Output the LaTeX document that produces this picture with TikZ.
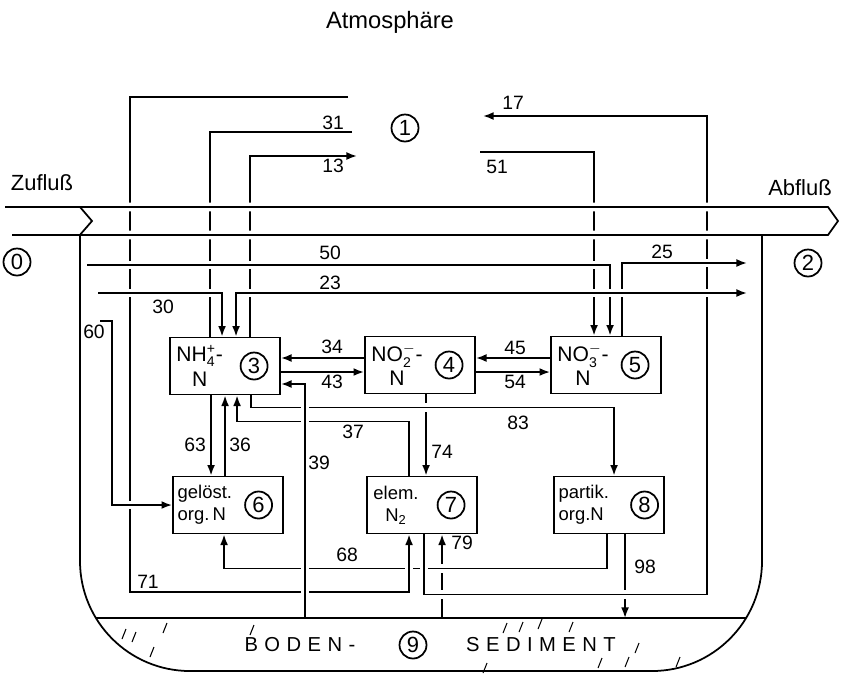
\documentclass[tikz,border=0pt]{standalone}
\usepackage{fontspec,amsmath}
\setmainfont{Liberation Sans}
\usetikzlibrary{arrows.meta,positioning,calc}
\tikzset{
  box/.style={draw,line width=1.1pt,minimum width=2.2cm,minimum height=1.14cm},
  boxtxt/.style={font=\fontsize{12}{14}\selectfont,align=center,inner sep=0pt},
  smtxt/.style={font=\fontsize{10.5}{12.5}\selectfont,align=left,inner sep=0pt},
  cnum/.style={circle,draw,line width=1pt,minimum size=0.54cm,inner sep=0pt,font=\fontsize{12.5}{12.5}\selectfont},
  ln/.style={line width=1pt},
  arr/.style={ln,-{Latex[length=6pt,width=4.5pt]}},
  rarr/.style={ln,{Latex[length=6pt,width=4.5pt]}-},
  dbl/.style={ln,{Latex[length=6pt,width=4.5pt]}-{Latex[length=6pt,width=4.5pt]}},
  over/.style={preaction={draw=white,line width=5pt,-,shorten <=2pt,shorten >=2pt}},
  lbl/.style={font=\fontsize{11}{11}\selectfont,inner sep=0pt},
  big/.style={font=\fontsize{13.5}{14}\selectfont,inner sep=0pt},
  sedtxt/.style={font=\fontsize{11.5}{12}\selectfont\addfontfeature{LetterSpace=32},inner sep=0pt},
  hatch/.style={line width=0.6pt}
}

\begin{document}
\begin{tikzpicture}[x=0.02cm,y=-0.02cm]
  \useasboundingbox (0,0) rectangle (847,674);

  % compartments
  \node[box] (b3) at (225,366) {};
  \node[box] (b4) at (420,365) {};
  \node[box] (b5) at (606,365) {};
  \node[box] (b6) at (228,505) {};
  \node[box] (b7) at (422,505) {};
  \node[box] (b8) at (609,505) {};
  \node[boxtxt,right=4pt of b3.west] (t3) {NH$_{\text{4}}^{\text{+}}$-\\N};
  \node[boxtxt,right=4pt of b4.west] (t4) {NO$_{\text{2}}^{-}$-\\N};
  \node[boxtxt,right=4pt of b5.west] (t5) {NO$_{\text{3}}^{-}$-\\N};
  \node[smtxt,right=3pt of b6.west] (t6) {gel\"ost.\\org.\,N};
  \node[smtxt,align=center,right=4pt of b7.west] (t7) {elem.\\N$_{\text{2}}$};
  \node[smtxt,right=3pt of b8.west] (t8) {partik.\\org.N};
  \node[cnum,left=2.5mm of b3.east] (n3) {3};
  \node[cnum,left=2.5mm of b4.east] (n4) {4};
  \node[cnum,left=2.5mm of b5.east] (n5) {5};
  \node[cnum,left=2.2mm of b6.east] (n6) {6};
  \node[cnum,left=2.5mm of b7.east] (n7) {7};
  \node[cnum,left=1.2mm of b8.east] (n8) {8};

  % outer compartments and texts
  \node[big] (atm) at (390,22) {Atmosph\"are};
  \node[cnum] (n1) at (405,128) {1};
  \node[cnum] (n0) at (17,262) {0};
  \node[cnum] (n2) at (808,263) {2};
  \node[cnum] (n9) at (413,645) {9};
  \node[big,font=\fontsize{12.5}{13}\selectfont] (zu) at (42,183) {Zufluß};
  \node[big,font=\fontsize{12.5}{13}\selectfont] (ab) at (800,188) {Abfluß};
  \node[sedtxt] (bod) at (300,645) {BODEN-};
  \node[sedtxt] (sedt) at (541,645) {SEDIMENT};

  % free ends
  \coordinate (a71) at (348,97);
  \coordinate (a31) at (352,132);
  \coordinate (a13) at (357,156);
  \coordinate (a17) at (483,116);
  \coordinate (a51) at (480,152);
  \coordinate (z50) at (87,265);
  \coordinate (z30) at (98,293);
  \coordinate (z60) at (100,321);
  \coordinate (o25) at (747,263);
  \coordinate (o23) at (747,293);
  \coordinate (sed) at (0,618);
  \coordinate (s39) at (305,618);

  % plain flows
  \draw[ln] (a31) -| ($(b3.north west)+(41,0)$);
  \draw[arr] ($(b3.north west)+(81,0)$) |- (a13);
  \draw[arr] (a51) -| ($(b5.north west)+(44,0)$);
  \draw[rarr] ($(b7.south west)+(76,0)$) coordinate (p79) -- (p79 |- sed);
  \draw[arr] ($(b3.south west)+(42,0)$) coordinate (p63) -- (p63 |- b6.north);
  \draw[arr] ($(b6.north west)+(53,0)$) coordinate (p36) -- (p36 |- b3.south);
  \draw[arr] ($(b4.south west)+(62,0)$) coordinate (p74) -- (p74 |- b7.north);
  \draw[arr] ([yshift=1.4mm]b4.west) -- ([yshift=1.4mm]b4.west -| b3.east);
  \draw[arr] ([yshift=-1.4mm]b4.west -| b3.east) -- ([yshift=-1.4mm]b4.west);
  \draw[arr] ([yshift=1.4mm]b5.west) -- ([yshift=1.4mm]b5.west -| b4.east);
  \draw[arr] ([yshift=-1.4mm]b5.west -| b4.east) -- ([yshift=-1.4mm]b5.west);
  \draw[arr] ($(b8.south west)+(72,0)$) coordinate (p98) -- (p98 |- sed);

  % flows that cross others
  \draw[arr,over] ($(b8.south west)+(54,0)$) -- ++(0,34) -| ($(b6.south west)+(52,0)$);
  \draw[arr,over] ($(b7.south west)+(58,0)$) -- ++(0,60) -- ++(283,0) |- (a17);
  \draw[arr,over] (a71) -| (130,592) -| ($(b7.south west)+(43,0)$);
  \draw[arr,over] (z60) -- ++(12,0) |- (b6.west);
  \draw[arr,over] (z30) -| ($(b3.north west)+(53,0)$);
  \draw[arr,over] ($(b5.north west)+(72,0)$) |- (o25);
  \draw[arr,over] (z50) -| ($(b5.north west)+(60,0)$);
  \draw[dbl,over] (o23) -| ($(b3.north west)+(67,0)$);
  \draw[arr,over] ($(b3.south west)+(82,0)$) -- ++(0,12) -| ($(b8.north west)+(61,0)$);
  \draw[arr,over] ($(b7.north west)+(43,0)$) |- ($(b3.south west)+(68,26)$) -- ($(b3.south west)+(68,0)$);
  \draw[arr,over] (s39) |- ([yshift=-3.6mm]b3.east);

  % river, basin and sediment
  \draw[ln,over] (5,207) -- (828,207) -- (838,221) -- (828,235) -- (12,235);
  \draw[ln] (80,207) -- (92,221) -- (79,236);
  \draw[ln,rounded corners=2.2cm] (80,236) -- (80,671) -- (762,671) -- (762,236);
  \draw[ln] (96,618) -- (746,618);
  \foreach \x/\y in {124/634,134/637,165/628,152/652,252/630,505/628,521/627,540/624,571/627,485/668,600/663,627/662,637/648,678/662}
    \draw[hatch] (\x-2,\y+5) -- (\x+2,\y-5);

  % flow labels
  \node[lbl] (l31) at (333,123) {31};
  \node[lbl] (l13) at (333,166) {13};
  \node[lbl] (l17) at (513,103) {17};
  \node[lbl] (l51) at (497,167) {51};
  \node[lbl] (l50) at (330,253) {50};
  \node[lbl] (l23) at (330,283) {23};
  \node[lbl] (l30) at (163,307) {30};
  \node[lbl] (l25) at (662,252) {25};
  \node[lbl] (l60) at (94,332) {60};
  \node[lbl] (l34) at (332,347) {34};
  \node[lbl] (l43) at (332,382) {43};
  \node[lbl] (l45) at (515,348) {45};
  \node[lbl] (l54) at (515,382) {54};
  \node[lbl] (l63) at (195,445) {63};
  \node[lbl] (l36) at (240,445) {36};
  \node[lbl] (l37) at (353,432) {37};
  \node[lbl] (l39) at (319,463) {39};
  \node[lbl] (l74) at (442,452) {74};
  \node[lbl] (l83) at (518,423) {83};
  \node[lbl] (l68) at (347,555) {68};
  \node[lbl] (l71) at (148,582) {71};
  \node[lbl] (l79) at (462,543) {79};
  \node[lbl] (l98) at (645,567) {98};
\end{tikzpicture}
\end{document}
